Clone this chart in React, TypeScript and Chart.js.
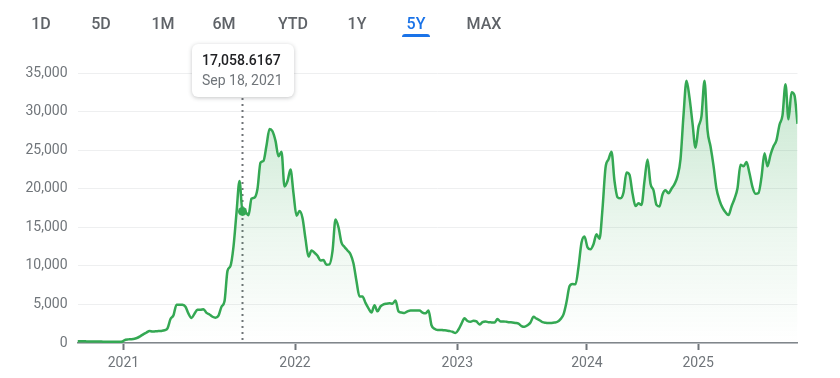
import { useEffect, useRef } from 'react';
import { Chart, registerables } from 'chart.js';

Chart.register(...registerables);

// ---- data (one value every sample step) ----
const values: number[] = [
  230, 220, 220, 210, 200, 200, 190, 180, 180, 170, 170, 160, 160, 150, 150,
  200, 430, 470, 500, 560, 680, 900, 1150, 1360, 1560, 1480, 1520, 1540, 1570, 1650,
  1900, 3100, 3600, 4960, 4960, 4950, 4700, 3800, 3250, 3800, 4300, 4320, 4380, 3900, 3700,
  3400, 3280, 3550, 4700, 5400, 9350, 10000, 12500, 16870, 21000, 17058.6167, 16950, 16550, 18700, 18850,
  20000, 23380, 23620, 25600, 27750, 27450, 26200, 24200, 24800, 20300, 21000, 22500, 19400, 16500, 17100,
  16200, 13500, 11200, 12000, 11700, 11300, 10700, 10750, 10150, 10200, 11900, 16000, 15000, 13000, 12450,
  12000, 11500, 10300, 8000, 6030, 6030, 5200, 4500, 3950, 4900, 4100, 4750, 5000, 5100, 5150,
  5100, 5500, 4100, 3950, 3900, 4100, 4220, 4220, 4200, 4220, 3950, 3850, 4200, 2300, 1850,
  1700, 1700, 1650, 1630, 1550, 1450, 1300, 1750, 2500, 3200, 2850, 2750, 2900, 2800, 2400,
  2700, 2780, 2700, 2670, 2650, 3100, 2800, 2800, 2750, 2700, 2670, 2600, 2500, 2200, 2100,
  2300, 2650, 3400, 3150, 2950, 2700, 2620, 2590, 2600, 2650, 2750, 3100, 3700, 5300, 7350,
  7650, 7600, 9850, 13000, 13800, 12400, 12150, 12800, 14100, 13500, 17400, 22700, 23800, 24800, 21000,
  18900, 18750, 19500, 22100, 21800, 19400, 17750, 18100, 17900, 21000, 23800, 20650, 19800, 17900, 17700,
  19250, 19800, 19400, 20000, 20600, 21600, 23800, 29500, 34000, 31800, 28500, 25300, 28000, 29400, 34000,
  27600, 25500, 23000, 20000, 18500, 17550, 16950, 16580, 17700, 18700, 20060, 23100, 22900, 23450, 22000,
  20200, 19350, 19450, 21500, 24600, 22900, 24400, 25500, 26300, 28300, 29500, 33550, 29000, 32500, 32100, 28400,
];

const yearLabels = ['2021', '2022', '2023', '2024', '2025'];
const yearIndex = [15.3, 72.5, 126.6, 169.8, 206.9];
const yTicks = [0, 5000, 10000, 15000, 20000, 25000, 30000, 35000];
const ranges = ['1D', '5D', '1M', '6M', 'YTD', '1Y', '5Y', 'MAX'];
const activeRange = '5Y';
const tooltipIndex = 55;
const tooltipDate = 'Sep 18, 2021';

const FONT = 'Roboto, "Noto Sans", Arial, sans-serif';
const GREEN = '#34a853';

const rangeCenters = [41, 101, 163, 224, 293, 357, 416, 484];

export default function App() {
  const ref = useRef<HTMLCanvasElement | null>(null);

  useEffect(() => {
    if (!ref.current) return;

    const hoverPlugin = {
      id: 'hoverMarker',
      beforeDatasetsDraw(chart: any) {
        const { ctx, chartArea } = chart;
        const px = chart.scales.x.getPixelForValue(tooltipIndex);
        ctx.save();
        ctx.strokeStyle = '#6f7377';
        ctx.lineWidth = 2;
        ctx.setLineDash([2, 4]);
        ctx.beginPath();
        ctx.moveTo(px, 98);
        ctx.lineTo(px, chartArea.bottom);
        ctx.stroke();
        ctx.restore();
      },
      afterDatasetsDraw(chart: any) {
        const { ctx } = chart;
        const px = chart.scales.x.getPixelForValue(tooltipIndex);
        const py = chart.scales.y.getPixelForValue(values[tooltipIndex]);
        ctx.save();
        ctx.fillStyle = GREEN;
        ctx.beginPath();
        ctx.arc(px, py, 4.5, 0, Math.PI * 2);
        ctx.fill();
        const w = 102;
        const h = 53;
        const bx = Math.round(px - w / 2);
        const by = 44;
        ctx.shadowColor = 'rgba(60,64,67,0.3)';
        ctx.shadowBlur = 4;
        ctx.shadowOffsetY = 1;
        ctx.fillStyle = '#ffffff';
        ctx.beginPath();
        ctx.roundRect(bx, by, w, h, 6);
        ctx.fill();
        ctx.shadowColor = 'transparent';
        ctx.textAlign = 'left';
        ctx.textBaseline = 'middle';
        ctx.fillStyle = '#202124';
        ctx.font = `500 14px ${FONT}`;
        ctx.fillText(
          values[tooltipIndex].toLocaleString('en-US', { minimumFractionDigits: 4, maximumFractionDigits: 4 }),
          bx + 10,
          by + 17
        );
        ctx.fillStyle = '#70757a';
        ctx.font = `400 14px ${FONT}`;
        ctx.fillText(tooltipDate, bx + 10, by + 37);
        ctx.restore();
      },
    };

    const chart = new Chart(ref.current, {
      type: 'line',
      data: {
        labels: values.map((_, i) => i),
        datasets: [
          {
            data: values.map((v, i) => ({ x: i, y: v })),
            borderColor: GREEN,
            borderWidth: 2.5,
            pointRadius: 0,
            cubicInterpolationMode: 'monotone',
            borderJoinStyle: 'round',
            fill: 'origin',
            backgroundColor: (c: any) => {
              const area = c.chart.chartArea;
              if (!area) return 'rgba(52,168,83,0.1)';
              const g = c.chart.ctx.createLinearGradient(0, area.top, 0, area.bottom);
              g.addColorStop(0, 'rgba(52,168,83,0.28)');
              g.addColorStop(0.6, 'rgba(52,168,83,0.09)');
              g.addColorStop(1, 'rgba(52,168,83,0.0)');
              return g;
            },
          },
        ],
      },
      options: {
        responsive: false,
        animation: false,
        layout: { padding: { top: 73, right: 42.5, left: 0, bottom: 0 } },
        plugins: { legend: { display: false }, tooltip: { enabled: false } },
        scales: {
          x: {
            type: 'linear',
            min: 0,
            max: values.length - 1,
            afterBuildTicks: (s: any) => {
              s.ticks = yearIndex.map((v) => ({ value: v }));
            },
            afterFit: (s: any) => {
              s.height = 35;
            },
            ticks: {
              autoSkip: false,
              maxRotation: 0,
              padding: 5,
              color: '#70757a',
              font: { family: FONT, size: 14 },
              callback: (_v: any, i: number) => yearLabels[i],
            },
            grid: {
              drawOnChartArea: false,
              drawTicks: true,
              tickLength: 7,
              tickColor: '#70757a',
              tickWidth: 2,
            },
            border: { display: true, color: '#80868b', width: 1.5 },
          },
          y: {
            min: 0,
            max: 35000,
            afterBuildTicks: (s: any) => {
              s.ticks = yTicks.map((v) => ({ value: v }));
            },
            afterFit: (s: any) => {
              s.width = 77.5;
            },
            ticks: {
              padding: 10,
              color: '#70757a',
              font: { family: FONT, size: 14 },
              callback: (v: any) => Number(v).toLocaleString('en-US'),
            },
            grid: { color: '#eeeff0', lineWidth: 1, drawTicks: false, tickLength: 0 },
            border: { display: false },
          },
        },
      },
      plugins: [hoverPlugin],
    } as any);

    return () => chart.destroy();
  }, []);

  return (
    <div style={{ position: 'absolute', left: 0, top: 0, width: 840, height: 378, background: '#fff' }}>
      <canvas ref={ref} width={840} height={378} style={{ position: 'absolute', left: 0, top: 0 }} />
      {ranges.map((r, i) => (
        <span
          key={r}
          style={{
            position: 'absolute',
            left: rangeCenters[i],
            top: 23,
            transform: 'translate(-50%, -50%)',
            fontFamily: FONT,
            fontSize: 16,
            fontWeight: 500,
            color: r === activeRange ? '#1a73e8' : '#5f6368',
            whiteSpace: 'nowrap',
          }}
        >
          {r}
        </span>
      ))}
      <div
        style={{
          position: 'absolute',
          left: 402,
          top: 34,
          width: 28,
          height: 3,
          background: '#1a73e8',
          borderRadius: '3px 3px 0 0',
        }}
      />
    </div>
  );
}
